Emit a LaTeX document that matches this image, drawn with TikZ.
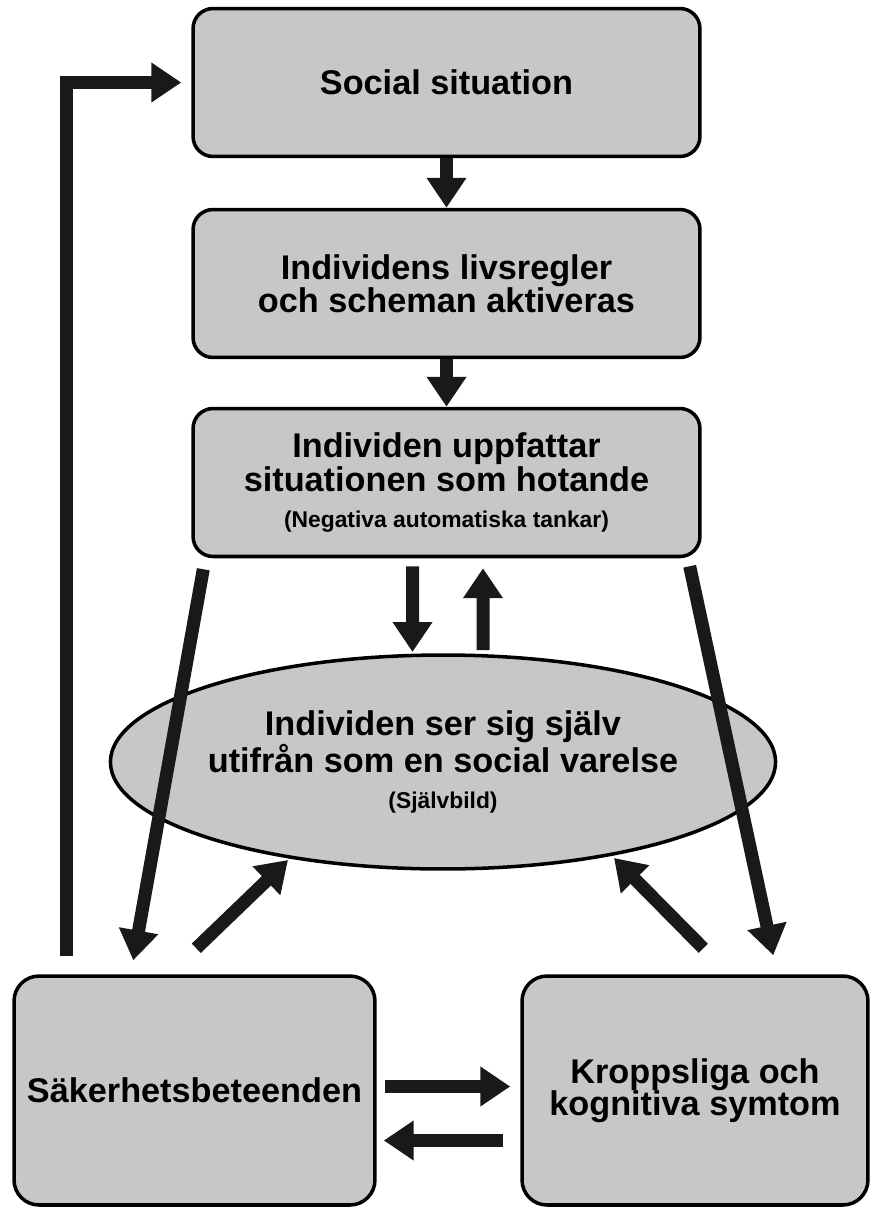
\documentclass[tikz,border=0pt]{standalone}
\usepackage{fontspec}
\setmainfont{Liberation Sans}
\usepackage{tikz}
\usetikzlibrary{calc,%
  shapes.geometric,%
  arrows.meta
}

\newcommand{\smalltext}[1]{{\fontsize{13}{15}\selectfont #1}}

\begin{document}
\begin{tikzpicture}
                    [
                        x=0.02cm, y=-0.02cm,
                        every node/.style={font=\bfseries\fontsize{19.5}{18.5}\selectfont, align=center},
                        stepbox/.style={draw, line width=2pt, fill=black!22, rounded corners=0.4cm, inner sep=0pt, minimum width=10.14cm, minimum height=2.96cm},
                        selfbox/.style={draw, ellipse, line width=2pt, fill=black!22, inner sep=0pt, minimum width=9.88cm, minimum height=4.28cm},
                        bigarrow/.style={line width=0.26cm, draw=black!90, -{Triangle[length=0.6cm,width=0.76cm]}}
                    ]

                    % Rand
                    \useasboundingbox (0,0) rectangle (870,1207);

                    % Kedjan uppifraan
                    \node[stepbox] (social) at (446.5,82.5) {Social situation};
                    \node[stepbox] (regler) at (446.5,283.5) {Individens livsregler\\och scheman aktiveras};
                    \node[stepbox] (uppfattar) at (446.5,482.5) {Individen uppfattar\\[1pt]situationen som hotande\\[2pt]\smalltext{(Negativa automatiska tankar)}};

                    % Sjaelvbild
                    \node[selfbox] (selfimg) at (443,762) {Individen ser sig sj\"alv\\utifr\aa n som en social varelse\\[2pt]\smalltext{(Sj\"alvbild)}};

                    % Nedre rutor
                    \node[stepbox, rounded corners=0.5cm, minimum width=7.22cm, minimum height=4.58cm] (saker) at (194.5,1090.5) {S\"akerhetsbeteenden};
                    \node[stepbox, rounded corners=0.5cm, minimum width=6.92cm, minimum height=4.58cm] (kropp) at (695,1090.5) {Kroppsliga och\\kognitiva symtom};

                    % Pilar
                    \draw[bigarrow] (social) -- (regler);
                    \draw[bigarrow] (regler) -- (uppfattar);
                    \draw[bigarrow] ($(uppfattar.south)+(-34,8)$) -- ($(selfimg.center)+(-30.5,-110)$);
                    \draw[bigarrow] ($(selfimg.center)+(40,-112)$) -- ($(uppfattar.south)+(36.5,10)$);
                    \draw[bigarrow] ($(uppfattar.south west)+(12,11)$) -- ($(saker.north west)+(121,-14)$);
                    \draw[bigarrow] ($(uppfattar.south east)+(-12,8)$) -- ($(kropp.north west)+(253,-19)$);
                    \draw[bigarrow] ($(saker.north west)+(184,-26)$) -- ($(selfimg.center)+(-155,98)$);
                    \draw[bigarrow] ($(kropp.north west)+(183,-26)$) -- ($(selfimg.center)+(171,96)$);
                    \draw[bigarrow] ($(saker.east)+(8,-4)$) -- ($(kropp.west)+(-10,-4)$);
                    \draw[bigarrow] ($(kropp.west)+(-17,50)$) -- ($(saker.east)+(7,50)$);
                    \draw[bigarrow] ($(saker.north west)+(54,-18)$) |- ($(social.west)+(-10,0)$);
                \end{tikzpicture}
\end{document}
